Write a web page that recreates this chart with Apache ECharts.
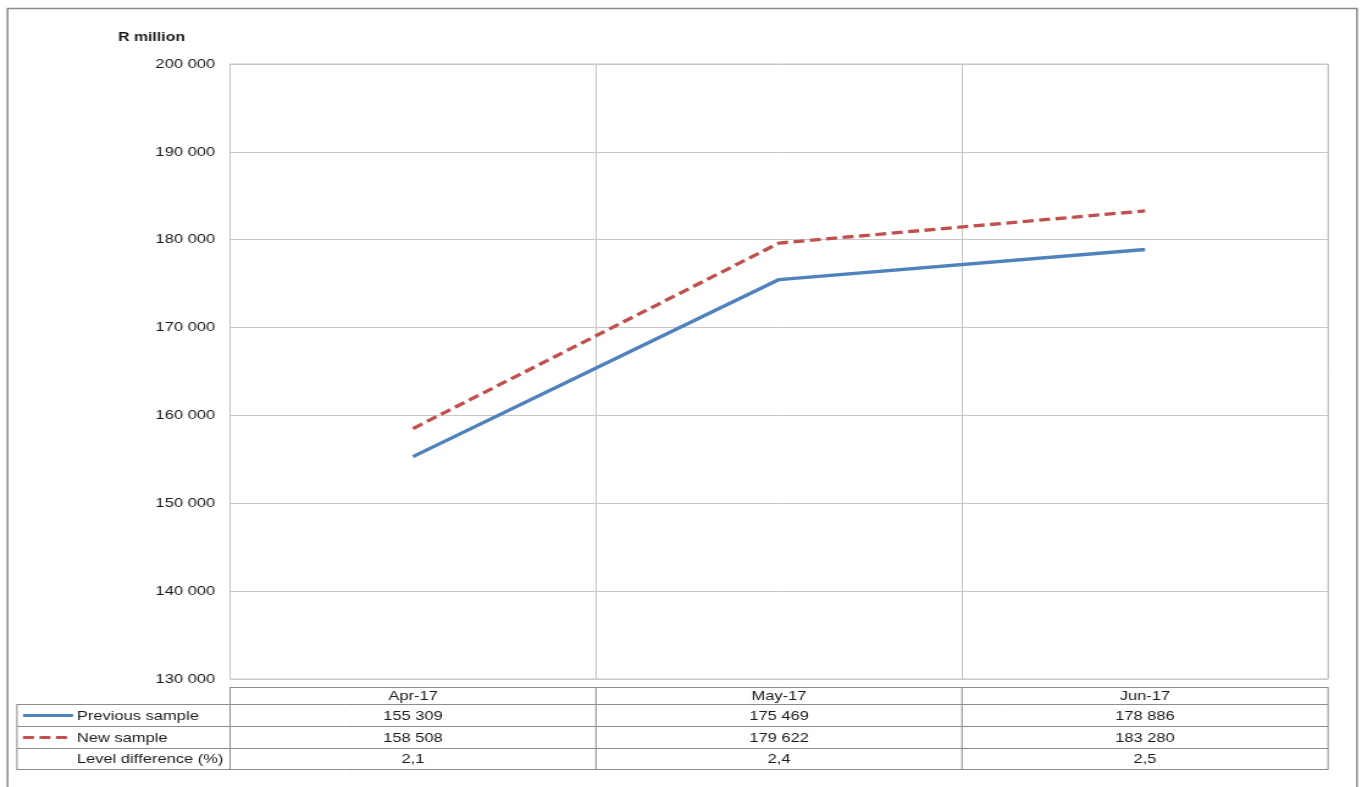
<!DOCTYPE html>
<html>
<head>
<meta charset="utf-8">
<script src="https://cdn.jsdelivr.net/npm/echarts@6/dist/echarts.min.js"></script>
<style>
  html, body { margin: 0; padding: 0; background: #fff; overflow: hidden; }
  #wrap { width: 1362px; height: 787px; overflow: hidden; }
  /* the chart is laid out on a narrower canvas and widened to the page width */
  #chart { width: 1116px; height: 787px; transform-origin: 0 0; transform: scaleX(1.22043); }
</style>
</head>
<body>
<div id="wrap"><div id="chart"></div></div>
<script>
// Monthly totals, R million
const months = ['Apr-17', 'May-17', 'Jun-17'];
const previousSample = [155309, 175469, 178886];
const newSample = [158508, 179622, 183280];
const levelDifference = [2.1, 2.4, 2.5];
const yTicks = { min: 130000, max: 200000, interval: 10000 };

const BLUE = '#4F81BD';
const RED = '#C0504D';
const FONT = '"Liberation Sans", Arial, sans-serif';
const TEXT = '#1a1a1a';
const FS = 13.5;

// horizontal widening applied to the chart element
const S = 1362 / 1116;
const px = x => x / S;

// plot frame (page pixels, converted to canvas units)
const G = { left: px(230), top: 64, width: px(1328) - px(230), height: 615 };
// data table under the plot
const T = { left: px(17), colStart: G.left, right: G.left + G.width, rows: [687, 704, 726, 748, 769] };

function fmtThousands(v) {
  return String(Math.round(v)).replace(/\B(?=(\d{3})+(?!\d))/g, ' ');
}
function fmtPct(v) {
  return v.toFixed(1).replace('.', ',');
}

const chart = echarts.init(document.getElementById('chart'), null, { renderer: 'canvas' });

function buildTable() {
  const els = [];
  const lineStyle = { stroke: '#8c8c8c', lineWidth: 1 };
  const colW = G.width / months.length;
  const r = T.rows;
  const hline = (x1, x2, y) => els.push({ type: 'line', silent: true, shape: { x1, y1: y + 0.5, x2, y2: y + 0.5 }, style: lineStyle });
  const vline = (x, y1, y2) => els.push({ type: 'line', silent: true, shape: { x1: x, y1, x2: x, y2 }, style: lineStyle });

  // horizontal rules
  hline(T.colStart, T.right, r[0]);
  for (let i = 1; i < r.length; i++) hline(T.left, T.right, r[i]);
  // vertical rules
  vline(T.left, r[1], r[4] + 1);
  for (let c = 0; c <= months.length; c++) vline(T.colStart + c * colW, r[0], r[4] + 1);

  const cellText = (txt, cx, y1, y2, align) => els.push({
    type: 'text', silent: true,
    style: { text: txt, x: cx, y: (y1 + y2) / 2 + 1, align: align || 'center', verticalAlign: 'middle',
      font: FS + 'px ' + FONT, fill: TEXT }
  });

  months.forEach((m, i) => {
    const cx = T.colStart + (i + 0.5) * colW;
    cellText(m, cx, r[0], r[1]);
    cellText(fmtThousands(previousSample[i]), cx, r[1], r[2]);
    cellText(fmtThousands(newSample[i]), cx, r[2], r[3]);
    cellText(fmtPct(levelDifference[i]), cx, r[3], r[4]);
  });

  // row headers with line keys
  const labelX = px(77);
  cellText('Previous sample', labelX, r[1], r[2], 'left');
  cellText('New sample', labelX, r[2], r[3], 'left');
  cellText('Level difference (%)', labelX, r[3], r[4], 'left');
  const ky1 = (r[1] + r[2]) / 2 + 0.5;
  els.push({ type: 'line', silent: true, shape: { x1: px(23), y1: ky1, x2: px(73), y2: ky1 },
    style: { stroke: BLUE, lineWidth: 3.2 } });
  const ky2 = (r[2] + r[3]) / 2 + 0.5;
  els.push({ type: 'line', silent: true, shape: { x1: px(23), y1: ky2, x2: px(70), y2: ky2 },
    style: { stroke: RED, lineWidth: 3.2, lineDash: [9, 4.5] } });
  return els;
}

const option = {
  animation: false,
  backgroundColor: '#ffffff',
  textStyle: { fontFamily: FONT },
  grid: {
    left: G.left, top: G.top, width: G.width, height: G.height,
    show: true, borderColor: '#c4c4c4', borderWidth: 1, backgroundColor: 'transparent'
  },
  xAxis: {
    type: 'category',
    data: months,
    boundaryGap: true,
    axisLine: { show: false },
    axisTick: { show: false },
    axisLabel: { show: false },
    splitLine: { show: true, lineStyle: { color: '#c4c4c4', width: 1 } }
  },
  yAxis: {
    type: 'value',
    min: yTicks.min, max: yTicks.max, interval: yTicks.interval,
    axisLine: { show: false },
    axisTick: { show: false },
    axisLabel: { formatter: fmtThousands, fontFamily: FONT, fontSize: FS, color: TEXT, margin: px(15) },
    splitLine: { show: true, lineStyle: { color: '#c8c8c8', width: 1 } }
  },
  series: [
    {
      name: 'Previous sample', type: 'line', data: previousSample,
      symbol: 'none', lineStyle: { color: BLUE, width: 3.3 }, itemStyle: { color: BLUE }, z: 3
    },
    {
      name: 'New sample', type: 'line', data: newSample,
      symbol: 'none', lineStyle: { color: RED, width: 3.3, type: [9, 4.5] }, itemStyle: { color: RED }, z: 4
    }
  ],
  graphic: [
    { type: 'rect', silent: true, shape: { x: px(7.5), y: 8.5, width: px(1357) - px(7.5), height: 800 },
      style: { fill: null, stroke: '#8a8a8a', lineWidth: 1.5 }, z: 0 },
    // unit caption above the value axis
    { type: 'text', silent: true,
      style: { text: 'R million', x: px(118), y: 37, align: 'left', verticalAlign: 'middle',
        font: 'bold 13px ' + FONT, fill: TEXT } },
    ...buildTable()
  ]
};

chart.setOption(option);
</script>
</body>
</html>
